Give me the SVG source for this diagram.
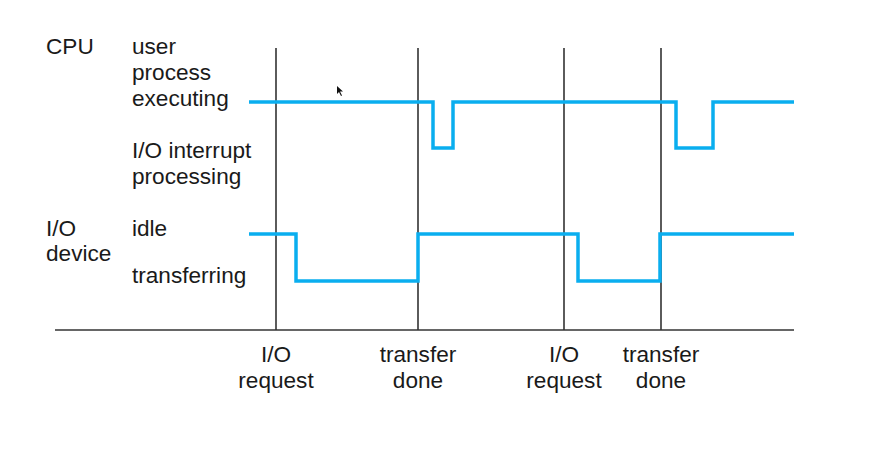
<svg xmlns="http://www.w3.org/2000/svg" width="881" height="451" viewBox="0 0 881 451">
<style>
text{font-family:"Liberation Sans",Arial,sans-serif;font-size:22.6px;fill:#1a1a1a}
.c{text-anchor:middle}
.tick{stroke:#333;stroke-width:1.6;fill:none}
.wave{stroke:#0aaeef;stroke-width:3.5;fill:none;stroke-linejoin:miter}
</style>
<rect width="881" height="451" fill="#fff"/>
<g id="labels">
<text x="46" y="54">CPU</text>
<text x="132" y="54">user</text>
<text x="132" y="80">process</text>
<text x="132" y="106">executing</text>
<text x="132" y="158">I/O interrupt</text>
<text x="132" y="184">processing</text>
<text x="46" y="236">I/O</text>
<text x="46" y="261">device</text>
<text x="132" y="236">idle</text>
<text x="132" y="283">transferring</text>
</g>
<g id="axis">
<line class="tick" x1="55" y1="330" x2="794" y2="330"/>
<line class="tick" x1="276" y1="48" x2="276" y2="330"/>
<line class="tick" x1="418" y1="48" x2="418" y2="330"/>
<line class="tick" x1="564" y1="48" x2="564" y2="330"/>
<line class="tick" x1="661" y1="48" x2="661" y2="330"/>
</g>
<g id="events">
<text class="c" x="276" y="362">I/O</text>
<text class="c" x="276" y="388">request</text>
<text class="c" x="418" y="362">transfer</text>
<text class="c" x="418" y="388">done</text>
<text class="c" x="564" y="362">I/O</text>
<text class="c" x="564" y="388">request</text>
<text class="c" x="661" y="362">transfer</text>
<text class="c" x="661" y="388">done</text>
</g>
<g id="connectors">
<polyline id="cpu-wave" class="wave" points="249,102 433,102 433,148 453,148 453,102 676,102 676,148 713,148 713,102 794,102"/>
<polyline id="io-wave" class="wave" points="249,234 296,234 296,281 418,281 418,234 578,234 578,281 660,281 660,234 794,234"/>
</g>
<polygon id="pointer" points="337,86 337,94 339,92 341,96 342,95.5 340,91.5 343,91.5" fill="#111"/>
</svg>
